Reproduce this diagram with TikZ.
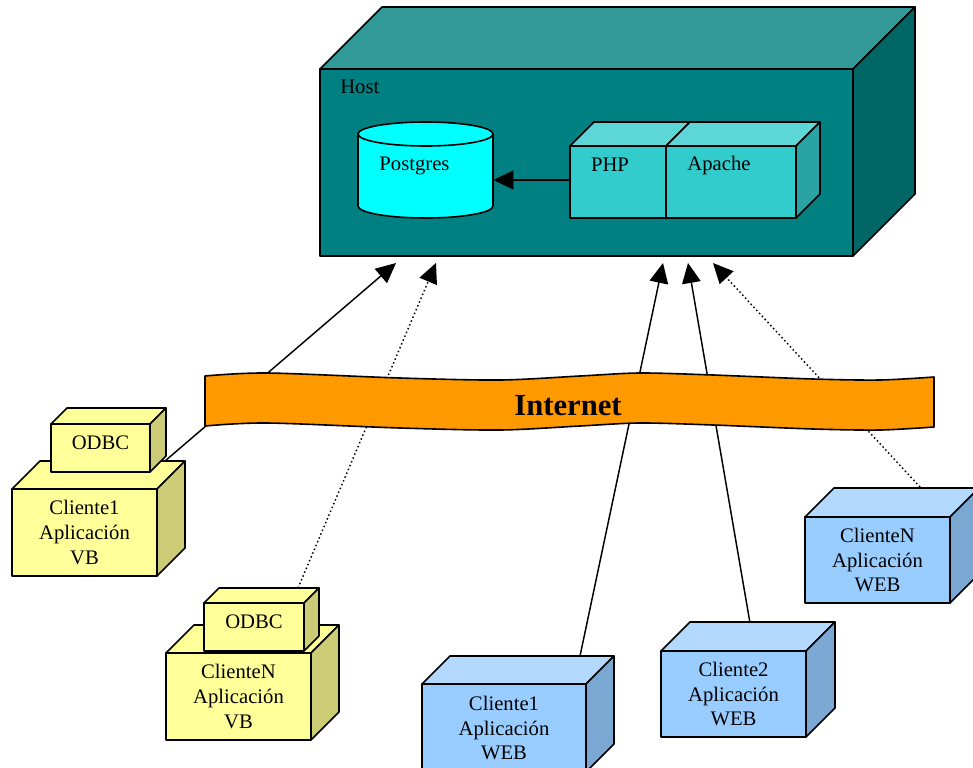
\documentclass[tikz,border=0pt]{standalone}
\usepackage{fontspec}
\setmainfont{Liberation Serif}
\usetikzlibrary{arrows.meta,calc,fit}

\definecolor{verdehost}{HTML}{008080}
\definecolor{verdetapa}{HTML}{339999}
\definecolor{verdelado}{HTML}{006666}
\definecolor{cian}{HTML}{00FFFF}
\definecolor{servfrente}{HTML}{33CCCC}
\definecolor{servtapa}{HTML}{5CD6D6}
\definecolor{servlado}{HTML}{29A3A3}
\definecolor{naranja}{HTML}{FF9900}
\definecolor{amarillo}{HTML}{FFFF99}
\definecolor{amarillolado}{HTML}{CCCC77}
\definecolor{azul}{HTML}{99CCFF}
\definecolor{azultapa}{HTML}{B3D9FF}
\definecolor{azullado}{HTML}{7BA7D3}

% tapa y lado de una caja 3D: nodo, fondo, color tapa, color lado
\newcommand{\caras}[4]{%
  \draw[borde, fill=#3] (#1.north west) -- ++(#2,-#2) -- ($(#1.north east)+(#2,-#2)$) -- (#1.north east) -- cycle;
  \draw[borde, fill=#4] (#1.north east) -- ++(#2,-#2) -- ($(#1.south east)+(#2,-#2)$) -- (#1.south east) -- cycle;
}

\begin{document}
\begin{tikzpicture}[x=0.75pt, y=-0.75pt,
    borde/.style={draw=black, line width=1.2pt, line join=round},
    frente/.style={borde, inner sep=0pt, outer sep=0pt},
    texto/.style={inner sep=0pt, align=center, font={\fontsize{15.5}{18.4}\selectfont}},
    enlace/.style={line width=1.1pt, -{Triangle[length=15pt,width=14pt]}},
    punteado/.style={enlace, dotted}]
    \useasboundingbox (0,0) rectangle (973,767);
    \clip (0,0) rectangle (973,767);

    % Servidor
    \node[frente, fill=verdehost, fit={(320,69) (853,256)}] (host) {};
    \caras{host}{62}{verdetapa}{verdelado}
    \node[texto, anchor=west] (hostlbl) at ($(host.north west)+(20,18)$) {Host};

    % Base de datos
    \draw[borde, fill=cian] (358,134) -- (358,206) arc[start angle=180, end angle=0, x radius=67.5, y radius=12] -- (493,134) -- cycle;
    \draw[borde, fill=cian] (425.5,134) ellipse[x radius=67.5, y radius=12];
    \node[inner sep=0pt, fit={(358,122) (493,218)}] (postgres) {};
    \node[texto] (pglbl) at ($(postgres.center)+(-11,-4)$) {Postgres};

    % PHP y Apache
    \node[frente, fill=servfrente, fit={(570,146) (666,218)}] (php) {};
    \caras{php}{24}{servtapa}{servlado}
    \node[frente, fill=servfrente, fit={(666,146) (796,218)}] (apache) {};
    \caras{apache}{24}{servtapa}{servlado}
    \node[texto] (phplbl) at ($(php.center)+(-8,-17)$) {PHP};
    \node[texto] (apachelbl) at ($(apache.center)+(-12,-16)$) {Apache};
    \draw[enlace] ($(php.west)+(0,-2)$) -- ($(postgres.east)+(0,10)$);

    % Clientes VB
    \node[frente, fill=amarillo, fit={(12,489) (157,576)}] (vb1) {};
    \caras{vb1}{28}{amarillo}{amarillolado}
    \node[texto] (vb1txt) at (vb1.center) {Cliente1\\Aplicación\\VB};
    \node[frente, fill=amarillo, fit={(51,424) (150,472)}] (odbc1) {};
    \caras{odbc1}{16}{amarillo}{amarillolado}
    \node[texto] (odbc1txt) at ($(odbc1.center)+(0,-5)$) {ODBC};

    \node[frente, fill=amarillo, fit={(166,653) (311,740)}] (vbn) {};
    \caras{vbn}{28}{amarillo}{amarillolado}
    \node[texto] (vbntxt) at (vbn.center) {ClienteN\\Aplicación\\VB};
    \node[frente, fill=amarillo, fit={(204,603) (304,651)}] (odbcn) {};
    \caras{odbcn}{15}{amarillo}{amarillolado}
    \node[texto] (odbcntxt) at ($(odbcn.center)+(0,-5)$) {ODBC};

    % Clientes WEB
    \node[frente, fill=azul, fit={(422,684) (586,772)}] (w1) {};
    \caras{w1}{28}{azultapa}{azullado}
    \node[texto] (w1txt) at (w1.center) {Cliente1\\Aplicación\\WEB};
    \node[frente, fill=azul, fit={(661,651) (806,737)}] (w2) {};
    \caras{w2}{29}{azultapa}{azullado}
    \node[texto] (w2txt) at (w2.center) {Cliente2\\Aplicación\\WEB};
    \node[frente, fill=azul, fit={(805,517) (950,603)}] (wn) {};
    \caras{wn}{29}{azultapa}{azullado}
    \node[texto] (wntxt) at (wn.center) {ClienteN\\Aplicación\\WEB};

    % Conexiones
    \coordinate (a1) at ($(host.south west)+(76,7)$);
    \coordinate (a2) at ($(host.south west)+(116,7)$);
    \coordinate (a3) at ($(host.south west)+(343,7)$);
    \coordinate (a4) at ($(host.south west)+(368,7)$);
    \coordinate (a5) at ($(host.south west)+(393,7)$);
    \draw[enlace] ($(vb1.north east)+(8,-28)$) -- (a1);
    \draw[punteado] ($(odbcn.north west)+(94,-15)$) -- (a2);
    \draw[enlace] ($(w1.north west)+(158,-28)$) -- (a3);
    \draw[enlace] ($(w2.north west)+(89,-28)$) -- (a4);
    \draw[punteado] ($(wn.north west)+(115,-30)$) -- (a5);

    % Internet
    \draw[borde, fill=naranja] plot[smooth] coordinates {(205,376) (267,373) (400,378) (500,380) (580,376) (640,373) (713,375) (813,379) (880,380) (934,377)}
        -- plot[smooth] coordinates {(934,427) (880,430) (813,429) (713,425) (640,423) (580,426) (500,430) (400,428) (267,423) (205,426)} -- cycle;
    \node[inner sep=0pt, font={\fontsize{23}{28}\selectfont\bfseries}] (internet) at (568,406) {Internet};
\end{tikzpicture}
\end{document}
